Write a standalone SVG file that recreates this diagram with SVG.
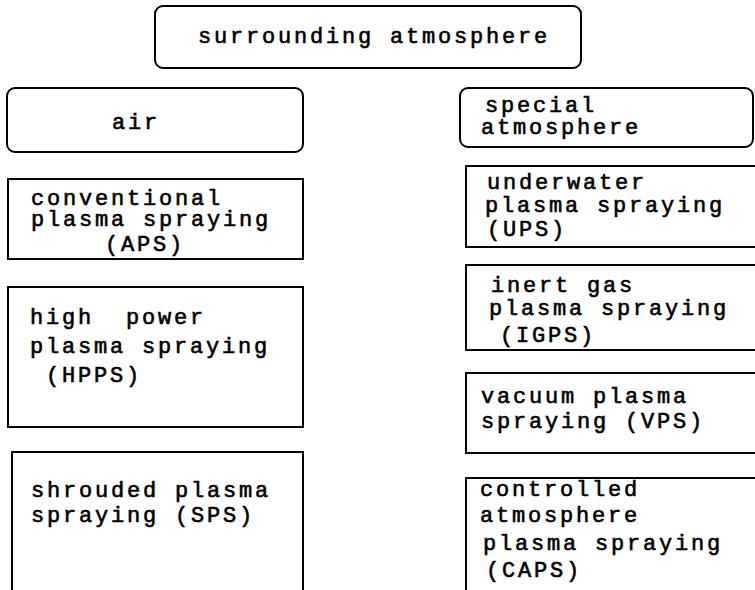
<svg xmlns="http://www.w3.org/2000/svg" width="755" height="590" viewBox="0 0 755 590">
<style>
.box{fill:#fff;stroke:#000;stroke-width:2}
.t{font-family:"Liberation Mono","Courier New",monospace;font-size:22px;letter-spacing:2.8px;font-weight:normal;fill:#000;stroke:#000;stroke-width:0.6px;white-space:pre}
</style>
<rect x="0" y="0" width="755" height="590" fill="#fff"/>
<g id="connectors"></g>
<g id="n-surrounding">
<rect class="box" x="155" y="6" width="426" height="62" rx="8"/>
<text class="t" x="198" y="43">surrounding atmosphere</text>
</g>
<g id="n-air">
<rect class="box" x="7" y="88" width="296" height="64" rx="8"/>
<text class="t" x="112" y="129">air</text>
</g>
<g id="n-special">
<rect class="box" x="460" y="88" width="293" height="59" rx="8"/>
<text class="t" x="485" y="112">special</text>
<text class="t" x="481" y="134">atmosphere</text>
</g>
<g id="n-aps">
<rect class="box" x="8" y="179" width="295" height="80"/>
<text class="t" x="31" y="205">conventional</text>
<text class="t" x="31" y="226">plasma spraying</text>
<text class="t" x="105" y="251">(APS)</text>
</g>
<g id="n-hpps">
<rect class="box" x="8" y="287" width="295" height="140"/>
<text class="t" x="30" y="324">high  power</text>
<text class="t" x="30" y="353">plasma spraying</text>
<text class="t" x="30" y="382"> (HPPS)</text>
</g>
<g id="n-sps">
<rect class="box" x="12" y="452" width="291" height="150"/>
<text class="t" x="31" y="497">shrouded plasma</text>
<text class="t" x="31" y="522">spraying (SPS)</text>
</g>
<g id="n-ups">
<rect class="box" x="466" y="166" width="300" height="81"/>
<text class="t" x="487" y="189">underwater</text>
<text class="t" x="485" y="212">plasma spraying</text>
<text class="t" x="487" y="236">(UPS)</text>
</g>
<g id="n-igps">
<rect class="box" x="466" y="265" width="300" height="85"/>
<text class="t" x="491" y="292">inert gas</text>
<text class="t" x="489" y="315">plasma spraying</text>
<text class="t" x="500" y="342">(IGPS)</text>
</g>
<g id="n-vps">
<rect class="box" x="466" y="373" width="300" height="80"/>
<text class="t" x="481" y="403">vacuum plasma</text>
<text class="t" x="481" y="428">spraying (VPS)</text>
</g>
<g id="n-caps">
<rect class="box" x="466" y="478" width="300" height="130"/>
<text class="t" x="480" y="496">controlled</text>
<text class="t" x="480" y="522">atmosphere</text>
<text class="t" x="483" y="550">plasma spraying</text>
<text class="t" x="486" y="577">(CAPS)</text>
</g>
</svg>
